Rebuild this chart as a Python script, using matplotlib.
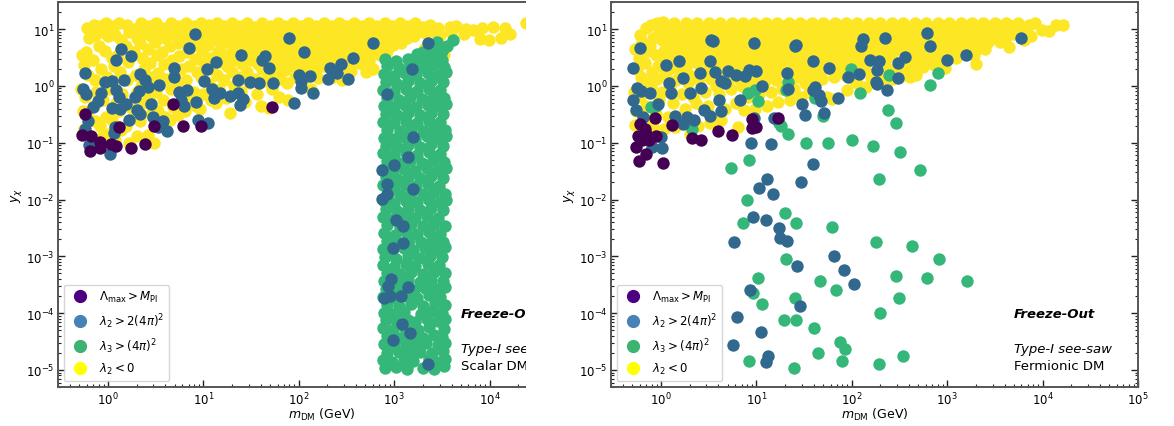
import numpy as np
import matplotlib
matplotlib.use("Agg")
import matplotlib.pyplot as plt
from matplotlib.lines import Line2D
from matplotlib.patches import Rectangle
from matplotlib.ticker import LogLocator, NullFormatter

# ---- data: (log10 m_DM/GeV, log10 y_chi) ----
categories = [r'$\Lambda_{\rm max} > M_{\rm Pl}$', r'$\lambda_2 > 2(4\pi)^2$',
              r'$\lambda_3 > (4\pi)^2$', r'$\lambda_2 < 0$']

scalar_lmax = [(-0.24,-0.49),(-0.27,-0.87),(-0.18,-0.89),(-0.19,-1.14),(-0.08,-1.09),(-0.08,-0.98),
    (0.03,-1.02),(0.08,-1.06),(0.12,-0.72),(0.24,-1.09),(0.39,-1.03),(0.48,-0.7),(0.68,-0.31),
    (0.79,-0.7),(0.98,-0.7),(1.72,-0.38)]

scalar_l2big = [(-0.24,0.22),(-0.26,-0.05),(-0.23,-0.14),(-0.21,-0.61),(-0.24,-0.76),(-0.2,-1.04),
    (-0.17,-0.98),(-0.16,-0.37),(-0.1,-0.26),(-0.07,-0.13),(-0.03,0.06),(0.04,0.08),(0.02,-1.2),
    (0.06,-0.83),(0.07,-0.72),(0.04,-0.39),(0.09,-0.07),(0.14,0.65),(0.08,0.45),(0.12,-0.19),
    (0.13,-0.4),(0.17,0.11),(0.22,-0.6),(0.24,0.52),(0.19,-0.31),(0.28,-0.19),(0.31,-0.42),
    (0.34,-0.5),(0.34,0.21),(0.33,-0.09),(0.39,0.11),(0.42,-0.02),(0.45,-0.32),(0.47,-0.54),
    (0.52,-0.72),(0.54,0.02),(0.58,-0.61),(0.62,-0.8),(0.69,0.31),(0.69,0.15),(0.75,-0.1),
    (0.77,-0.25),(0.8,-0.36),(0.83,-0.07),(0.85,0.66),(0.91,0.92),(0.94,-0.6),(0.92,-0.29),
    (1.01,0.09),(1.04,0.3),(1.05,-0.66),(1.09,-0.05),(1.11,-0.22),(1.13,0.42),(1.18,-0.12),
    (1.28,-0.18),(1.36,-0.13),(1.38,-0.33),(1.36,0.11),(1.4,0.54),(1.42,-0.23),(1.49,0.06),
    (1.58,0.05),(1.62,0.46),(1.65,0.52),(1.69,0.31),(1.73,0.05),(1.9,0.84),(1.95,-0.3),
    (2.0,0.19),(2.02,-0.03),(2.06,0.6),(2.12,0.17),(2.15,-0.12),(2.02,0.08),(2.31,0.12),
    (2.33,0.31),(2.4,0.23),(2.44,0.38),(2.52,0.12),(2.57,0.5),(2.78,0.75),(3.35,0.75),
    (3.19,0.3),
    (2.92,-0.14),(3.2,-0.9),(3.15,-1.26),(3.0,-1.4),(2.92,-1.72),(3.2,-1.82),(2.92,-1.9),
    (2.87,-1.99),(3.09,-2.46),(2.99,-2.85),(3.09,-2.77),(2.97,-3.4),(2.94,-3.52),(3.14,-3.54),
    (2.89,-3.73),(2.96,-3.7),(3.07,-3.7),(3.08,-4.19),(3.17,-4.35),(2.99,-4.48),(3.35,-4.9),
    (2.87,-1.48),(3.02,-2.36)]

scalar_l3big = [
    (2.9,-4.97),(3.02,-4.95),(3.13,-4.99),(3.3,-4.96),(3.42,-4.98),(3.52,-4.94),
    (2.88,-4.83),(2.98,-4.86),(3.1,-4.82),(3.2,-4.85),(3.36,-4.81),(3.47,-4.86),(3.53,-4.8),
    (2.92,-4.7),(3.05,-4.68),(3.16,-4.72),(3.27,-4.69),(3.4,-4.71),(3.51,-4.67),
    (2.89,-4.55),(3.0,-4.58),(3.12,-4.54),(3.23,-4.57),(3.33,-4.53),(3.46,-4.56),(3.53,-4.52),
    (2.93,-4.41),(3.06,-4.44),(3.2,-4.4),(3.3,-4.43),(3.42,-4.39),(3.5,-4.42),
    (2.88,-4.27),(2.99,-4.3),(3.11,-4.26),(3.25,-4.29),(3.37,-4.25),(3.52,-4.28),
    (2.91,-4.13),(3.03,-4.16),(3.14,-4.12),(3.22,-4.15),(3.34,-4.11),(3.46,-4.14),(3.53,-4.1),
    (2.89,-3.99),(3.0,-4.02),(3.1,-3.98),(3.28,-4.01),(3.4,-3.97),(3.5,-4.0),
    (2.93,-3.85),(3.05,-3.88),(3.18,-3.84),(3.3,-3.87),(3.43,-3.83),(3.53,-3.86),
    (2.88,-3.71),(3.02,-3.74),(3.12,-3.7),(3.24,-3.73),(3.36,-3.69),(3.48,-3.72),
    (2.91,-3.57),(3.0,-3.6),(3.1,-3.56),(3.21,-3.59),(3.32,-3.55),(3.44,-3.58),(3.53,-3.54),
    (2.89,-3.43),(3.04,-3.46),(3.15,-3.42),(3.27,-3.45),(3.39,-3.41),(3.51,-3.44),
    (2.93,-3.29),(3.06,-3.32),(3.18,-3.28),(3.3,-3.31),(3.42,-3.27),(3.53,-3.3),
    (2.88,-3.15),(3.0,-3.18),(3.12,-3.14),(3.22,-3.17),(3.35,-3.13),(3.47,-3.16),
    (2.9,-3.01),(3.02,-3.04),(3.14,-3.0),(3.26,-3.03),(3.38,-2.99),(3.5,-3.02),
    (2.88,-2.87),(2.98,-2.9),(3.1,-2.86),(3.2,-2.89),(3.32,-2.85),(3.44,-2.88),(3.53,-2.84),
    (2.92,-2.73),(3.04,-2.76),(3.16,-2.72),(3.28,-2.75),(3.4,-2.71),(3.51,-2.74),
    (2.89,-2.59),(3.01,-2.62),(3.12,-2.58),(3.24,-2.61),(3.36,-2.57),(3.48,-2.6),
    (2.93,-2.45),(3.06,-2.48),(3.18,-2.44),(3.3,-2.47),(3.42,-2.43),(3.53,-2.46),
    (2.88,-2.31),(2.99,-2.34),(3.1,-2.3),(3.22,-2.33),(3.34,-2.29),(3.46,-2.32),
    (2.91,-2.17),(3.03,-2.2),(3.15,-2.16),(3.27,-2.19),(3.39,-2.15),(3.51,-2.18),
    (2.89,-2.03),(3.0,-2.06),(3.12,-2.02),(3.24,-2.05),(3.36,-2.01),(3.48,-2.04),(3.54,-2.0),
    (2.94,-1.89),(3.06,-1.92),(3.18,-1.88),(3.3,-1.91),(3.42,-1.87),(3.53,-1.9),
    (2.88,-1.75),(3.0,-1.78),(3.11,-1.74),(3.23,-1.77),(3.35,-1.73),(3.47,-1.76),
    (2.91,-1.61),(3.03,-1.64),(3.15,-1.6),(3.27,-1.63),(3.39,-1.59),(3.51,-1.62),
    (2.89,-1.47),(2.99,-1.5),(3.1,-1.46),(3.22,-1.49),(3.34,-1.45),(3.46,-1.48),(3.54,-1.44),
    (2.93,-1.33),(3.05,-1.36),(3.17,-1.32),(3.29,-1.35),(3.41,-1.31),(3.52,-1.34),
    (2.88,-1.19),(3.0,-1.22),(3.12,-1.18),(3.24,-1.21),(3.36,-1.17),(3.48,-1.2),
    (2.91,-1.05),(3.03,-1.08),(3.15,-1.04),(3.27,-1.07),(3.39,-1.03),(3.51,-1.06),
    (2.89,-0.91),(3.0,-0.94),(3.1,-0.9),(3.22,-0.93),(3.34,-0.89),(3.46,-0.92),(3.54,-0.88),
    (2.93,-0.77),(3.06,-0.8),(3.18,-0.76),(3.3,-0.79),(3.42,-0.75),(3.53,-0.78),
    (2.88,-0.63),(3.0,-0.66),(3.12,-0.62),(3.24,-0.65),(3.36,-0.61),(3.48,-0.64),
    (2.91,-0.49),(3.03,-0.52),(3.15,-0.48),(3.27,-0.51),(3.39,-0.47),(3.51,-0.5),
    (2.89,-0.35),(3.0,-0.38),(3.11,-0.34),(3.23,-0.37),(3.35,-0.33),(3.47,-0.36),(3.54,-0.32),
    (2.93,-0.21),(3.05,-0.24),(3.17,-0.2),(3.29,-0.23),(3.41,-0.19),(3.52,-0.22),
    (2.88,-0.07),(3.0,-0.1),(3.12,-0.06),(3.24,-0.09),(3.36,-0.05),(3.48,-0.08),
    (2.91,0.07),(3.03,0.04),(3.15,0.08),(3.27,0.05),(3.39,0.09),(3.51,0.06),
    (2.89,0.21),(3.0,0.18),(3.11,0.22),(3.23,0.19),(3.35,0.23),(3.47,0.2),(3.54,0.24),
    (2.93,0.35),(3.05,0.32),(3.17,0.36),(3.29,0.33),(3.41,0.37),(3.52,0.34),
    (2.9,0.47),(3.02,0.44),(3.14,0.48),(3.26,0.45),(3.38,0.49),(3.5,0.46),
    (3.3,0.6),(3.38,0.7),(3.45,0.78),(3.5,0.62),(3.55,0.7),(3.62,0.81),(3.43,0.58),(3.24,0.56)]

scalar_l2neg = [
    (-0.27,0.55),(-0.25,0.37),(-0.28,-0.05),(-0.26,-0.45),
    (-0.22,1.02),(-0.2,0.85),(-0.23,0.6),(-0.21,0.2),(-0.24,-0.2),(-0.22,-0.52),(-0.25,-0.76),
    (-0.15,1.08),(-0.13,0.9),(-0.16,0.45),(-0.14,0.1),(-0.12,-0.1),(-0.15,-0.35),(-0.13,-0.62),
    (-0.08,1.05),(-0.06,0.95),(-0.09,0.7),(-0.07,0.3),(-0.05,-0.25),(-0.08,-0.7),(-0.06,-0.9),
    (-0.02,1.1),(0.0,0.88),(-0.03,0.62),(-0.01,0.15),(0.01,-0.05),(-0.02,-0.55),(0.0,-0.85),
    (0.05,1.05),(0.07,0.9),(0.04,0.5),(0.06,0.35),(0.05,0.05),(0.08,-0.3),(0.04,-0.6),(0.07,-0.95),
    (0.12,1.1),(0.14,0.8),(0.11,0.55),(0.13,0.25),(0.15,-0.15),(0.12,-0.45),(0.14,-0.78),
    (0.2,1.08),(0.22,0.95),(0.19,0.7),(0.21,0.42),(0.2,0.1),(0.23,-0.38),(0.19,-0.7),(0.22,-1.0),
    (0.28,1.0),(0.3,0.85),(0.27,0.6),(0.29,0.2),(0.31,-0.1),(0.28,-0.55),(0.3,-0.88),
    (0.35,1.1),(0.37,0.92),(0.34,0.75),(0.36,0.5),(0.38,0.3),(0.35,0.0),(0.37,-0.3),(0.34,-0.62),
    (0.43,1.05),(0.45,0.88),(0.42,0.65),(0.44,0.4),(0.46,0.15),(0.43,-0.2),(0.45,-0.5),(0.42,-0.86),
    (0.5,1.1),(0.52,0.95),(0.49,0.78),(0.51,0.55),(0.53,0.22),(0.5,-0.1),(0.52,-0.45),(0.48,-1.0),
    (0.58,1.02),(0.6,0.85),(0.57,0.6),(0.59,0.38),(0.61,0.12),(0.58,-0.25),(0.6,-0.55),
    (0.66,1.1),(0.68,0.92),(0.65,0.7),(0.67,0.45),(0.69,0.2),(0.66,-0.05),(0.68,-0.38),(0.65,-0.6),
    (0.74,1.05),(0.76,0.9),(0.73,0.75),(0.75,0.52),(0.77,0.3),(0.74,0.0),(0.76,-0.3),(0.73,-0.52),
    (0.82,1.1),(0.84,0.95),(0.81,0.8),(0.83,0.6),(0.85,0.35),(0.82,0.1),(0.84,-0.2),(0.81,-0.45),
    (0.9,1.05),(0.92,0.88),(0.89,0.7),(0.91,0.48),(0.93,0.25),(0.9,-0.1),(0.92,-0.35),
    (0.98,1.1),(1.0,0.95),(0.97,0.8),(0.99,0.62),(1.01,0.4),(0.98,0.15),(1.0,-0.15),(0.97,-0.4),
    (1.06,1.08),(1.08,0.9),(1.05,0.72),(1.07,0.5),(1.09,0.3),(1.06,0.05),(1.08,-0.25),
    (1.14,1.1),(1.16,0.96),(1.13,0.8),(1.15,0.6),(1.17,0.42),(1.14,0.2),(1.16,-0.05),(1.13,-0.3),
    (1.22,1.05),(1.24,0.9),(1.21,0.75),(1.23,0.55),(1.25,0.35),(1.22,0.1),(1.24,-0.22),
    (1.3,1.1),(1.32,0.95),(1.29,0.8),(1.31,0.65),(1.33,0.45),(1.3,0.25),(1.32,0.0),(1.28,-0.48),
    (1.38,1.06),(1.4,0.9),(1.37,0.72),(1.39,0.55),(1.41,0.38),(1.38,0.15),(1.4,-0.1),
    (1.46,1.1),(1.48,0.96),(1.45,0.8),(1.47,0.62),(1.49,0.45),(1.46,0.25),(1.48,0.05),(1.44,-0.28),
    (1.54,1.04),(1.56,0.88),(1.53,0.72),(1.55,0.55),(1.57,0.38),(1.54,0.12),(1.56,-0.15),
    (1.62,1.1),(1.64,0.95),(1.61,0.8),(1.63,0.65),(1.65,0.48),(1.62,0.3),(1.64,0.08),(1.6,-0.35),
    (1.7,1.05),(1.72,0.9),(1.69,0.75),(1.71,0.6),(1.73,0.42),(1.7,0.2),(1.72,-0.05),(1.69,-0.39),
    (1.78,1.1),(1.8,0.96),(1.77,0.82),(1.79,0.66),(1.81,0.5),(1.78,0.32),(1.8,0.12),(1.79,-0.2),
    (1.86,1.06),(1.88,0.9),(1.85,0.76),(1.87,0.6),(1.89,0.45),(1.86,0.28),(1.88,0.05),(1.89,-0.25),
    (1.94,1.1),(1.96,0.95),(1.93,0.8),(1.95,0.66),(1.97,0.5),(1.94,0.35),(1.96,0.15),
    (2.02,1.05),(2.04,0.92),(2.01,0.78),(2.03,0.62),(2.05,0.48),(2.02,0.3),(2.04,0.1),
    (2.1,1.1),(2.12,0.96),(2.09,0.82),(2.11,0.68),(2.13,0.52),(2.1,0.36),(2.13,-0.06),
    (2.18,1.06),(2.2,0.92),(2.17,0.78),(2.19,0.62),(2.21,0.46),(2.18,0.28),(2.2,0.14),
    (2.26,1.1),(2.28,0.95),(2.25,0.8),(2.27,0.66),(2.29,0.5),(2.26,0.35),
    (2.34,1.05),(2.36,0.92),(2.33,0.78),(2.35,0.64),(2.37,0.48),(2.34,0.32),(2.36,0.16),
    (2.42,1.1),(2.44,0.96),(2.41,0.82),(2.43,0.68),(2.45,0.55),(2.42,0.4),(2.45,0.1),
    (2.5,1.06),(2.52,0.92),(2.49,0.78),(2.51,0.65),(2.53,0.5),(2.5,0.36),(2.52,0.2),
    (2.58,1.1),(2.6,0.96),(2.57,0.84),(2.59,0.7),(2.61,0.55),(2.58,0.4),(2.55,0.26),
    (2.66,1.05),(2.68,0.92),(2.65,0.8),(2.67,0.66),(2.69,0.52),(2.66,0.38),(2.7,0.24),
    (2.74,1.1),(2.76,0.97),(2.73,0.85),(2.75,0.72),(2.77,0.58),(2.74,0.44),(2.78,0.3),
    (2.82,1.06),(2.84,0.94),(2.81,0.82),(2.83,0.68),(2.85,0.55),
    (2.9,1.1),(2.92,0.98),(2.89,0.86),(2.91,0.74),(2.93,0.62),
    (2.98,1.06),(3.0,0.95),(2.97,0.84),(2.99,0.72),
    (3.06,1.1),(3.08,0.98),(3.05,0.88),(3.07,0.76),
    (3.14,1.05),(3.16,0.94),(3.13,0.84),
    (3.22,1.1),(3.24,0.98),(3.21,0.88),(3.31,0.65),
    (3.3,1.04),(3.32,0.94),(3.38,1.08),(3.4,0.96),(3.46,1.02),(3.48,0.9),(3.52,0.56),
    (3.58,1.04),(3.65,1.06),(3.6,0.95),(3.73,0.91),(3.75,1.0),(3.83,0.98),(3.9,0.82),
    (3.92,1.02),(3.99,0.8),(4.04,1.04),(4.12,0.84),(4.16,1.02),(4.21,0.91),(4.38,1.1)]

fermion_lmax = [(-0.22,-0.67),(-0.24,-0.88),(-0.26,-1.08),(-0.23,-1.32),(-0.16,-1.2),(-0.16,-0.85),
    (-0.17,-0.76),(-0.06,-0.57),(-0.05,-0.88),(0.02,-1.35),(0.12,-0.69),(0.33,-0.92),(0.42,-0.95),
    (0.6,-0.8),(0.75,-0.86),(0.96,-0.58),(0.95,-0.74),(1.0,-0.73),(1.23,-0.57),(-0.2,-0.96),
    (-0.12,-0.95)]

fermion_l2big = [(-0.29,0.31),(-0.29,-0.25),(-0.26,-0.42),(-0.19,-0.54),(-0.25,-0.04),(-0.22,0.67),
    (-0.21,-0.09),(-0.11,-0.13),(-0.09,-1.07),(0.0,-0.9),(0.01,-1.09),(-0.03,-0.31),(0.05,0.37),
    (0.08,0.05),(0.11,-0.13),(0.15,-0.53),(0.23,0.14),(0.23,-0.67),(0.31,-0.13),(0.27,-0.54),
    (0.35,-0.6),(0.41,0.22),(0.42,-0.04),(0.45,-0.42),(0.51,0.43),(0.51,-0.53),(0.55,0.79),
    (0.57,0.25),(0.61,-0.25),(0.63,-0.45),(0.63,0.08),(0.67,0.05),(0.7,0.26),(0.79,0.19),
    (0.83,-0.25),(0.88,0.17),(0.92,0.28),(1.0,0.26),(1.06,-0.01),(0.94,-1.01),(0.98,-0.56),
    (1.15,-1.03),(1.19,-0.56),(1.32,0.22),(1.33,-0.06),(1.41,0.7),(1.48,-0.31),(1.51,-0.52),
    (1.59,-0.07),(1.62,-0.02),(1.66,-0.16),(1.68,-0.27),(1.71,-0.48),(1.76,0.31),(1.86,-0.21),
    (1.96,0.15),(2.08,0.21),(2.1,0.7),(2.12,0.82),(2.19,0.45),(2.25,0.06),(2.26,0.28),
    (2.27,0.03),(2.29,0.44),(2.35,0.84),(2.37,-0.08),(2.49,0.14),(2.48,0.4),(2.56,0.51),
    (2.79,0.93),(2.82,0.71),(3.0,0.45),(3.2,0.54),(3.77,0.85),(1.59,0.43),(0.98,0.75),
    (0.53,0.81),(0.19,0.43),(1.42,0.72),
    (1.59,-1.38),(1.03,-1.8),(1.11,-1.64),(1.18,-1.91),(1.47,-1.69),(0.97,-2.3),(1.1,-2.36),
    (1.24,-2.5),(1.25,-2.67),(1.32,-2.73),(0.77,-2.75),(1.81,-3.0),(1.92,-3.24),(2.02,-3.49),
    (1.43,-3.17),(0.93,-3.59),(1.46,-3.87),(0.8,-4.06),(1.05,-4.34),(0.76,-4.56),(1.12,-4.76),
    (1.1,-4.86)]

fermion_l3big = [(-0.1,-0.37),(-0.05,-0.35),(0.33,-0.76),(0.91,-0.13),(1.02,-0.27),(0.99,-0.08),
    (1.33,0.07),(1.31,-0.07),(1.62,-0.21),(1.7,-0.53),(1.26,-0.71),(1.24,-0.66),(1.33,-0.85),
    (1.99,0.3),(2.09,-0.13),(2.39,0.19),(2.9,0.22),(2.82,0.02),(2.38,-0.43),(2.46,-0.65),
    (1.52,-1.0),(1.75,-1.0),(2.0,-0.95),(2.22,-1.06),(2.51,-1.16),(2.29,-1.64),(2.72,-1.48),
    (0.92,-1.3),(0.73,-1.44),(0.9,-2.0),(1.3,-2.24),(1.42,-2.41),(0.86,-2.42),(1.79,-2.49),
    (1.31,-3.04),(2.25,-2.74),(2.63,-2.82),(2.91,-3.05),(1.02,-3.39),(1.67,-3.44),(1.83,-3.59),
    (2.46,-3.35),(2.79,-3.38),(3.21,-3.43),(0.97,-3.65),(1.41,-3.74),(2.5,-3.74),(1.06,-3.84),
    (2.3,-4.0),(1.29,-4.13),(1.42,-4.12),(1.6,-4.27),(1.88,-4.51),(1.93,-4.63),(1.65,-4.7),
    (2.54,-4.75),(0.92,-4.84),(1.9,-4.85),(2.29,-4.9),(1.39,-4.97)]

fermion_l2neg = [
    (-0.27,0.65),(-0.25,0.3),(-0.28,-0.1),(-0.26,-0.45),(-0.27,-0.69),
    (-0.22,0.9),(-0.2,0.78),(-0.23,0.5),(-0.21,0.15),(-0.22,-0.2),
    (-0.16,1.02),(-0.14,0.62),(-0.17,0.4),(-0.15,0.05),(-0.16,-0.35),(-0.14,-0.6),
    (-0.1,1.08),(-0.08,0.85),(-0.11,0.7),(-0.09,0.25),(-0.1,-0.02),(-0.08,-0.72),
    (-0.04,1.1),(-0.02,0.92),(-0.05,0.55),(-0.03,0.35),(-0.04,0.12),(-0.02,-0.25),(-0.05,-0.5),
    (0.02,1.12),(0.04,0.98),(0.01,0.8),(0.03,0.62),(0.02,0.45),(0.04,0.2),(0.01,-0.1),(0.03,-0.75),
    (0.08,1.05),(0.1,0.88),(0.07,0.7),(0.09,0.5),(0.08,0.3),(0.1,0.0),(0.07,-0.55),
    (0.14,1.1),(0.16,0.95),(0.13,0.78),(0.15,0.58),(0.14,0.38),(0.16,0.1),(0.13,-0.3),(0.15,-0.72),
    (0.2,1.0),(0.22,0.85),(0.19,0.65),(0.21,0.48),(0.2,0.25),(0.22,-0.15),(0.19,-0.65),
    (0.26,1.1),(0.28,0.92),(0.25,0.75),(0.27,0.55),(0.26,0.32),(0.28,0.05),(0.25,-0.4),
    (0.32,1.05),(0.34,0.88),(0.31,0.7),(0.33,0.5),(0.32,0.18),(0.34,-0.2),(0.31,-0.85),
    (0.38,1.1),(0.4,0.96),(0.37,0.8),(0.39,0.6),(0.38,0.4),(0.4,0.1),(0.37,-0.3),(0.39,-0.7),
    (0.44,1.04),(0.46,0.88),(0.43,0.7),(0.45,0.5),(0.44,0.25),(0.46,-0.1),
    (0.5,1.1),(0.52,0.95),(0.49,0.78),(0.51,0.6),(0.5,0.38),(0.52,0.12),(0.49,-0.35),(0.51,-0.66),
    (0.56,1.06),(0.58,0.9),(0.55,0.72),(0.57,0.52),(0.56,0.3),(0.58,0.0),
    (0.62,1.1),(0.64,0.95),(0.61,0.8),(0.63,0.62),(0.62,0.42),(0.64,0.2),(0.61,-0.15),(0.63,-0.6),
    (0.68,1.04),(0.7,0.88),(0.67,0.72),(0.69,0.55),(0.68,0.35),(0.7,0.1),(0.67,-0.4),
    (0.74,1.1),(0.76,0.96),(0.73,0.8),(0.75,0.64),(0.74,0.45),(0.76,0.22),(0.73,-0.05),
    (0.8,1.06),(0.82,0.9),(0.79,0.75),(0.81,0.58),(0.8,0.38),(0.82,0.12),(0.79,-0.3),(0.81,-0.72),
    (0.86,1.1),(0.88,0.95),(0.85,0.8),(0.87,0.64),(0.86,0.48),(0.88,0.28),(0.85,0.0),(0.87,-0.42),
    (0.92,1.04),(0.94,0.9),(0.91,0.74),(0.93,0.58),(0.92,0.4),(0.94,0.18),(0.91,-0.2),
    (0.98,1.1),(1.0,0.96),(0.97,0.8),(0.99,0.65),(0.98,0.5),(1.0,0.3),(0.97,0.05),(0.99,-0.4),
    (1.04,1.06),(1.06,0.9),(1.03,0.75),(1.05,0.6),(1.04,0.42),(1.06,0.2),(1.03,-0.15),
    (1.1,1.1),(1.12,0.96),(1.09,0.82),(1.11,0.66),(1.1,0.5),(1.12,0.3),(1.09,0.08),(1.11,-0.35),
    (1.16,1.04),(1.18,0.9),(1.15,0.76),(1.17,0.6),(1.16,0.44),(1.18,0.22),(1.15,-0.1),
    (1.22,1.1),(1.24,0.96),(1.21,0.82),(1.23,0.68),(1.22,0.52),(1.24,0.32),(1.21,0.1),(1.23,-0.29),
    (1.28,1.06),(1.3,0.9),(1.27,0.76),(1.29,0.6),(1.28,0.45),(1.3,0.25),(1.27,-0.05),
    (1.34,1.1),(1.36,0.95),(1.33,0.8),(1.35,0.65),(1.34,0.5),(1.36,0.3),(1.37,0.12),(1.35,-0.25),
    (1.4,1.04),(1.42,0.9),(1.39,0.75),(1.41,0.6),(1.4,0.42),(1.42,0.22),(1.39,-0.05),
    (1.46,1.1),(1.48,0.96),(1.45,0.82),(1.47,0.68),(1.46,0.52),(1.48,0.35),(1.45,0.15),(1.47,-0.2),
    (1.52,1.06),(1.54,0.92),(1.51,0.78),(1.53,0.62),(1.52,0.46),(1.54,0.28),(1.51,0.05),
    (1.58,1.1),(1.6,0.96),(1.57,0.82),(1.59,0.68),(1.58,0.52),(1.6,0.35),(1.57,0.15),(1.55,-0.1),
    (1.64,1.04),(1.66,0.9),(1.63,0.76),(1.65,0.6),(1.64,0.45),(1.66,0.25),
    (1.7,1.1),(1.72,0.96),(1.69,0.82),(1.71,0.66),(1.7,0.5),(1.72,0.32),(1.69,0.12),(1.74,-0.2),
    (1.76,1.06),(1.78,0.92),(1.75,0.78),(1.77,0.62),(1.76,0.46),(1.78,0.3),
    (1.82,1.1),(1.84,0.96),(1.81,0.82),(1.83,0.68),(1.82,0.52),(1.84,0.35),(1.81,0.15),(1.79,-0.23),
    (1.88,1.04),(1.9,0.9),(1.87,0.76),(1.89,0.6),(1.88,0.45),(1.9,0.25),
    (1.94,1.1),(1.96,0.96),(1.93,0.82),(1.95,0.68),(1.94,0.52),(1.96,0.38),(1.93,0.2),(1.95,-0.08),
    (2.0,1.06),(2.02,0.92),(1.99,0.78),(2.01,0.62),(2.0,0.48),(2.02,0.12),(2.03,0.08),
    (2.06,1.1),(2.08,0.96),(2.05,0.82),(2.07,0.68),(2.06,0.54),(2.08,0.38),(2.05,0.05),
    (2.12,1.04),(2.14,0.9),(2.11,0.76),(2.13,0.62),(2.12,0.46),(2.14,0.3),(2.15,-0.02),
    (2.18,1.1),(2.2,0.96),(2.17,0.82),(2.19,0.68),(2.18,0.55),(2.2,0.15),
    (2.24,1.06),(2.26,0.92),(2.23,0.78),(2.25,0.64),(2.24,0.5),
    (2.3,1.1),(2.32,0.96),(2.29,0.82),(2.31,0.7),(2.3,0.56),(2.32,0.1),
    (2.36,1.04),(2.38,0.9),(2.35,0.76),(2.37,0.62),(2.36,0.48),(2.38,0.3),
    (2.42,1.1),(2.44,0.96),(2.41,0.84),(2.43,0.7),(2.42,0.56),(2.44,0.28),(2.42,0.12),
    (2.48,1.06),(2.5,0.92),(2.47,0.78),(2.49,0.65),(2.5,0.3),
    (2.54,1.1),(2.56,0.96),(2.53,0.84),(2.55,0.7),(2.54,0.38),(2.56,0.2),
    (2.6,1.04),(2.62,0.9),(2.59,0.78),(2.61,0.64),(2.6,0.5),(2.62,0.32),(2.61,0.16),
    (2.66,1.1),(2.68,0.97),(2.65,0.85),(2.67,0.72),(2.66,0.6),(2.68,0.45),(2.67,0.2),
    (2.72,1.06),(2.74,0.92),(2.71,0.8),(2.73,0.66),(2.72,0.52),(2.75,0.34),
    (2.78,1.1),(2.8,0.97),(2.77,0.85),(2.79,0.72),(2.78,0.58),(2.8,0.45),
    (2.84,1.04),(2.86,0.92),(2.83,0.8),(2.85,0.68),(2.84,0.55),(2.86,0.36),
    (2.9,1.1),(2.92,0.96),(2.89,0.84),(2.91,0.72),(2.9,0.58),(2.93,0.45),
    (2.96,1.06),(2.98,0.92),(2.95,0.8),(2.97,0.68),(2.96,0.5),(2.98,0.31),
    (3.02,1.1),(3.04,0.97),(3.01,0.85),(3.03,0.72),(3.02,0.58),
    (3.08,1.04),(3.1,0.92),(3.07,0.8),(3.09,0.66),(3.09,0.49),
    (3.14,1.1),(3.16,0.97),(3.13,0.86),(3.15,0.74),(3.14,0.6),
    (3.2,1.05),(3.22,0.93),(3.19,0.8),(3.21,0.68),
    (3.26,1.1),(3.28,0.98),(3.25,0.86),(3.27,0.72),(3.28,0.55),
    (3.32,1.04),(3.34,0.92),(3.31,0.8),(3.33,0.66),(3.3,0.38),
    (3.38,1.1),(3.4,0.98),(3.37,0.86),(3.4,0.65),
    (3.44,1.05),(3.46,0.92),(3.43,0.78),
    (3.5,1.1),(3.52,0.97),(3.49,0.84),
    (3.56,1.04),(3.58,0.92),(3.55,0.78),
    (3.62,1.1),(3.62,0.86),(3.65,0.68),
    (3.68,1.05),(3.7,0.92),(3.74,1.1),(3.76,0.97),(3.81,0.81),
    (3.8,1.04),(3.86,1.08),(3.88,0.88),(3.92,1.1),(3.99,0.98),
    (4.07,0.96),(4.14,1.07),(4.21,1.07)]

panels = [
    dict(data=[scalar_l2neg, scalar_l3big, scalar_l2big, scalar_lmax],
         text=["Freeze-Out", "Type-I see-saw", "Scalar DM"]),
    dict(data=[fermion_l2neg, fermion_l3big, fermion_l2big, fermion_lmax],
         text=["Freeze-Out", "Type-I see-saw", "Fermionic DM"]),
]

point_colors = ['#fde725', '#35b779', '#31688e', '#440154']   # drawn in this order
legend_colors = ['indigo', 'steelblue', 'mediumseagreen', 'yellow']

W, H = 1174, 427
fig = plt.figure(figsize=(W / 100, H / 100), dpi=100)
ax_left = fig.add_axes([58 / W, 39 / H, 527 / W, 385 / H], zorder=0)
ax_right = fig.add_axes([611 / W, 39 / H, 527 / W, 385 / H], zorder=2)

# white strip: the right panel overlaps the right end of the left panel
fig.patches.append(Rectangle((525.5 / W, 0), (611 - 525.5) / W, 1, transform=fig.transFigure,
                             facecolor='white', edgecolor='none', zorder=1))

for ax, panel in zip([ax_left, ax_right], panels):
    for pts, col in zip(panel['data'], point_colors):
        arr = np.array(pts)
        ax.scatter(10 ** arr[:, 0], 10 ** arr[:, 1], s=80, c=col, linewidths=0)
    ax.set_xscale('log')
    ax.set_yscale('log')
    ax.set_xlim(0.3, 1e5)
    ax.set_ylim(5e-6, 30)
    ax.xaxis.set_minor_locator(LogLocator(base=10, subs=np.arange(2, 10), numticks=100))
    ax.yaxis.set_minor_locator(LogLocator(base=10, subs=np.arange(2, 10), numticks=100))
    ax.xaxis.set_minor_formatter(NullFormatter())
    ax.yaxis.set_minor_formatter(NullFormatter())
    ax.tick_params(which='both', direction='in', top=False, right=True, labelsize=8.5,
                   color='#222222', pad=2.5)
    ax.tick_params(which='major', length=5, width=1)
    ax.tick_params(which='minor', length=2.5, width=0.8)
    for sp in ax.spines.values():
        sp.set_color('#555555')
        sp.set_linewidth(1.4)
    ax.set_xlabel(r'$m_{\rm DM}$ (GeV)', fontsize=9, labelpad=-0.5)
    ax.set_ylabel(r'$y_\chi$', fontsize=9, labelpad=1)
    handles = [Line2D([], [], marker='o', ls='', color=c, markersize=8.5) for c in legend_colors]
    ax.legend(handles, categories, loc='lower left', fontsize=8.5, handletextpad=0.6,
              labelspacing=0.55)
    ax.text(0.765, 0.192, panel['text'][0], transform=ax.transAxes, fontsize=9.5,
            fontweight='bold', fontstyle='italic', va='center', ha='left')
    ax.text(0.765, 0.101, panel['text'][1], transform=ax.transAxes, fontsize=9.5,
            fontstyle='italic', va='center', ha='left')
    ax.text(0.765, 0.057, panel['text'][2], transform=ax.transAxes, fontsize=9.5,
            va='center', ha='left')

fig.savefig('out.png', dpi=100)
